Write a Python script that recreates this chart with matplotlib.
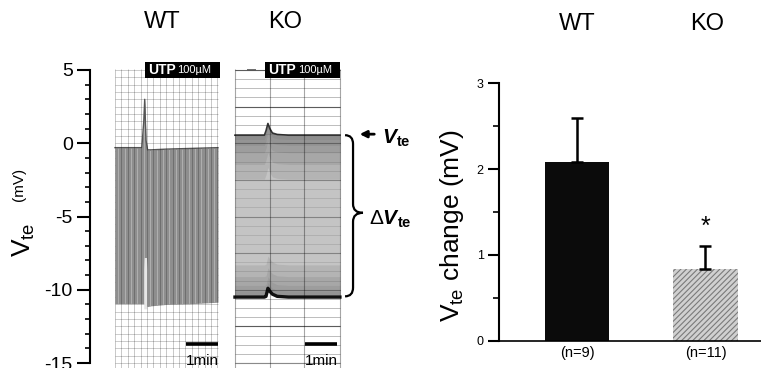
import numpy as np
import matplotlib.pyplot as plt
from matplotlib.patches import Rectangle, PathPatch
from matplotlib.path import Path

plt.rcParams['font.family'] = ['Liberation Sans', 'DejaVu Sans']
plt.rcParams['mathtext.fontset'] = 'custom'
plt.rcParams['mathtext.rm'] = 'Liberation Sans'
plt.rcParams['mathtext.it'] = 'Liberation Sans:italic'
plt.rcParams['mathtext.bf'] = 'Liberation Sans:bold'
plt.rcParams['mathtext.bfit'] = 'Liberation Sans:italic:bold'
plt.rcParams['axes.unicode_minus'] = False
plt.rcParams['hatch.linewidth'] = 0.8

# WT recording (time in min, Vte in mV): upper and lower envelope of the trace
wt_t = [0.78, 1.62, 1.68, 1.71, 1.75, 1.80, 1.90, 2.40, 3.20, 4.00]
wt_top = [-0.3, -0.3, 1.5, 3.0, 0.2, -0.45, -0.45, -0.4, -0.35, -0.3]
wt_bot = [-10.95, -10.95, -10.95, -10.95, -11.1, -11.15, -11.1, -11.0, -10.95, -10.85]
wt_notch_t = [1.68, 1.695, 1.765, 1.78]
wt_notch_top = [-8.6, -7.8, -7.8, -8.6]

# KO recording
ko_t = [4.53, 5.45, 5.50, 5.56, 5.62, 5.70, 5.85, 6.20, 7.00, 7.81]
ko_top = [0.55, 0.55, 0.85, 1.35, 1.0, 0.7, 0.6, 0.55, 0.55, 0.55]
ko_bot = [-10.5, -10.5, -10.45, -9.9, -10.1, -10.3, -10.45, -10.5, -10.5, -10.5]

# summary bars
groups = ['WT', 'KO']
vte_change = [2.08, 0.83]
sem = [0.52, 0.27]
n_labels = ['(n=9)', '(n=11)']

fig = plt.figure(figsize=(7.61, 3.68), dpi=100)

def px(x, y):
    return x / 761, (368 - y) / 368

# ---------------- left: chart recordings ----------------
ax = fig.add_axes([90 / 761, 5 / 368, 320 / 761, 293 / 368])
ax.set_xlim(0, 10)
ax.set_ylim(-15, 5)
for s in ['top', 'right', 'bottom']:
    ax.spines[s].set_visible(False)
ax.spines['left'].set_linewidth(1.5)
ax.set_xticks([])
ax.set_yticks([-15, -10, -5, 0, 5])
ax.set_yticks(np.arange(-15, 6, 1), minor=True)
ax.tick_params(axis='y', which='major', length=9.5, width=1.5, labelsize=14, pad=3)
ax.tick_params(axis='y', which='minor', length=3.6, width=1.2)

py0, py1 = -15.4, 5.1

# WT paper
wx0, wx1 = wt_t[0], wt_t[-1]
ax.hlines(np.arange(-15, 5.01, 0.5), wx0, wx1, colors='#c4c4c4', lw=0.6, zorder=1, clip_on=False)
band = ax.fill_between(wt_t, wt_bot, wt_top, color='#8e8e8e', lw=0, zorder=2)
stripes = ax.vlines(np.arange(wx0 + 0.1, wx1, 0.2), -12, 4, colors='#b0b0b0', lw=0.7, zorder=2)
stripes.set_clip_path(band.get_paths()[0], ax.transData)
ax.plot(wt_t, wt_top, color='#555555', lw=1.0, zorder=2)
ax.fill_between(wt_notch_t, -11.3, wt_notch_top, color='#e6e6e6', lw=0, zorder=2)
ax.vlines(np.arange(wx0, wx1 + 0.01, 0.2), py0, py1, colors='k', alpha=0.22, lw=0.7, zorder=3, clip_on=False)

# KO paper
kx0, kx1 = ko_t[0], ko_t[-1]
hy = np.arange(-15, 5.01, 0.625)
ax.hlines(hy, kx0, kx1, colors='#cccccc', lw=0.6, zorder=1, clip_on=False)
ax.hlines(hy[::4], kx0, kx1, colors='#8a8a8a', lw=0.8, zorder=1, clip_on=False)
ax.fill_between(ko_t, ko_bot, ko_top, color='#c4c4c4', lw=0, zorder=2)
for off in [0.3, 0.7, 1.2, 2.0, 3.0]:
    ax.fill_between(ko_t, np.array(ko_top) - off, ko_top, color='#707070', lw=0, zorder=2, alpha=0.18)
for off in [0.4, 0.8, 1.4, 2.2]:
    ax.fill_between(ko_t, ko_bot, np.array(ko_bot) + off, color='#707070', lw=0, zorder=2, alpha=0.18)
ax.plot(ko_t, ko_top, color='#333333', lw=1.2, zorder=3)
ax.plot(ko_t, ko_bot, color='#111111', lw=2.4, zorder=3)
ax.hlines(hy, kx0, kx1, colors='k', alpha=0.12, lw=0.6, zorder=3)
ax.hlines(hy[::4], kx0, kx1, colors='k', alpha=0.25, lw=0.8, zorder=3)
ax.vlines([kx0, 5.63, 6.69, kx1], py0, py1, colors='k', alpha=0.35, lw=0.8, zorder=3, clip_on=False)
ax.hlines(5.0, 4.9, 5.2, colors='#555555', lw=1.2, zorder=3, clip_on=False)

# UTP boxes
for bx0, tx0, tx1 in [(1.72, 1.82, 2.72), (5.47, 5.58, 6.50)]:
    ax.add_patch(Rectangle((bx0, 4.42), 2.34, 1.12, facecolor='black', edgecolor='none',
                           zorder=5, clip_on=False))
    ax.text(tx0, 4.98, 'UTP', color='white', fontsize=10, fontweight='bold',
            va='center', ha='left', zorder=6, clip_on=False)
    ax.text(tx1, 4.98, '100µM', color='white', fontsize=8, va='center', ha='left',
            zorder=6, clip_on=False)

# 1 min scale bars
for sx in [3.0, 6.72]:
    ax.hlines(-13.7, sx, sx + 1.0, colors='black', lw=2.6, zorder=5, clip_on=False)
    ax.text(sx + 0.5, -14.85, '1min', fontsize=11, ha='center', va='center', zorder=5,
            clip_on=False)

# brace, arrow and labels
ytop, ybot, ytip = 0.55, -10.45, -4.75
x0, xm, xt = 7.97, 8.22, 8.53
verts = [(x0, ytop), (xm, ytop), (xm, ytop - 0.6),
         (xm, ytip + 0.6), (xm, ytip), (xt, ytip),
         (xm, ytip), (xm, ytip - 0.6),
         (xm, ybot + 0.6), (xm, ybot), (x0, ybot)]
codes = [Path.MOVETO, Path.CURVE3, Path.CURVE3,
         Path.LINETO, Path.CURVE3, Path.CURVE3,
         Path.CURVE3, Path.CURVE3,
         Path.LINETO, Path.CURVE3, Path.CURVE3]
ax.add_patch(PathPatch(Path(verts, codes), facecolor='none', edgecolor='black', lw=1.6,
                       clip_on=False))
ax.annotate('', xy=(8.34, 0.62), xytext=(8.97, 0.62),
            arrowprops=dict(arrowstyle='-|>', lw=2, color='black', mutation_scale=10),
            annotation_clip=False)
ax.text(9.12, 0.35, r'$\mathbfit{V}_{\mathbf{te}}$', fontsize=15, va='center', ha='left',
        clip_on=False)
ax.text(8.72, -5.2, r'$\Delta\mathbfit{V}_{\mathbf{te}}$', fontsize=15, va='center', ha='left',
        clip_on=False)

fig.text(*px(24, 240), r'$\mathrm{V}_{\mathrm{te}}$', fontsize=19, rotation=90,
         ha='center', va='center')
fig.text(*px(19, 184), '(mV)', fontsize=11, rotation=90, ha='center', va='center')

fig.text(*px(162, 22), 'WT', fontsize=17, ha='center', va='center')
fig.text(*px(285, 22), 'KO', fontsize=17, ha='center', va='center')

# ---------------- right: bar chart ----------------
bx = fig.add_axes([499 / 761, (368 - 340.7) / 368, 262 / 761, 257.4 / 368])
x = np.arange(len(groups))
bx.bar(x[0], vte_change[0], width=0.5, color='#0b0b0b', zorder=2)
bx.bar(x[1], vte_change[1], width=0.5, color='#d0d0d0', edgecolor='#7a7a7a',
       linewidth=0, hatch='//////', zorder=2)
bx.errorbar(x, vte_change, yerr=[[0, 0], sem], fmt='none', ecolor='black',
            elinewidth=1.8, capsize=4.3, capthick=1.8, zorder=3)
bx.set_xlim(-0.607, 1.432)
bx.set_ylim(0, 3)
for s in ['top', 'right']:
    bx.spines[s].set_visible(False)
bx.spines['left'].set_linewidth(1.5)
bx.spines['bottom'].set_linewidth(1.2)
bx.set_xticks([])
bx.set_yticks([0, 1, 2, 3])
bx.set_yticks([0.5, 1.5, 2.5], minor=True)
bx.tick_params(axis='y', which='major', length=8, width=1.5, labelsize=9, pad=3)
bx.tick_params(axis='y', which='minor', length=4, width=1.2)

bx.text(x[1], 1.33, '*', fontsize=18, ha='center', va='center')
for xi, lab in zip(x, n_labels):
    bx.text(xi, -0.14, lab, fontsize=10.5, ha='center', va='center', clip_on=False)

fig.text(*px(452, 226), r'$\mathrm{V}_{\mathrm{te}}$ change (mV)', fontsize=19,
         rotation=90, ha='center', va='center')
fig.text(*px(577, 24), 'WT', fontsize=17, ha='center', va='center')
fig.text(*px(707, 24), 'KO', fontsize=17, ha='center', va='center')

fig.savefig('out.png', dpi=100)
